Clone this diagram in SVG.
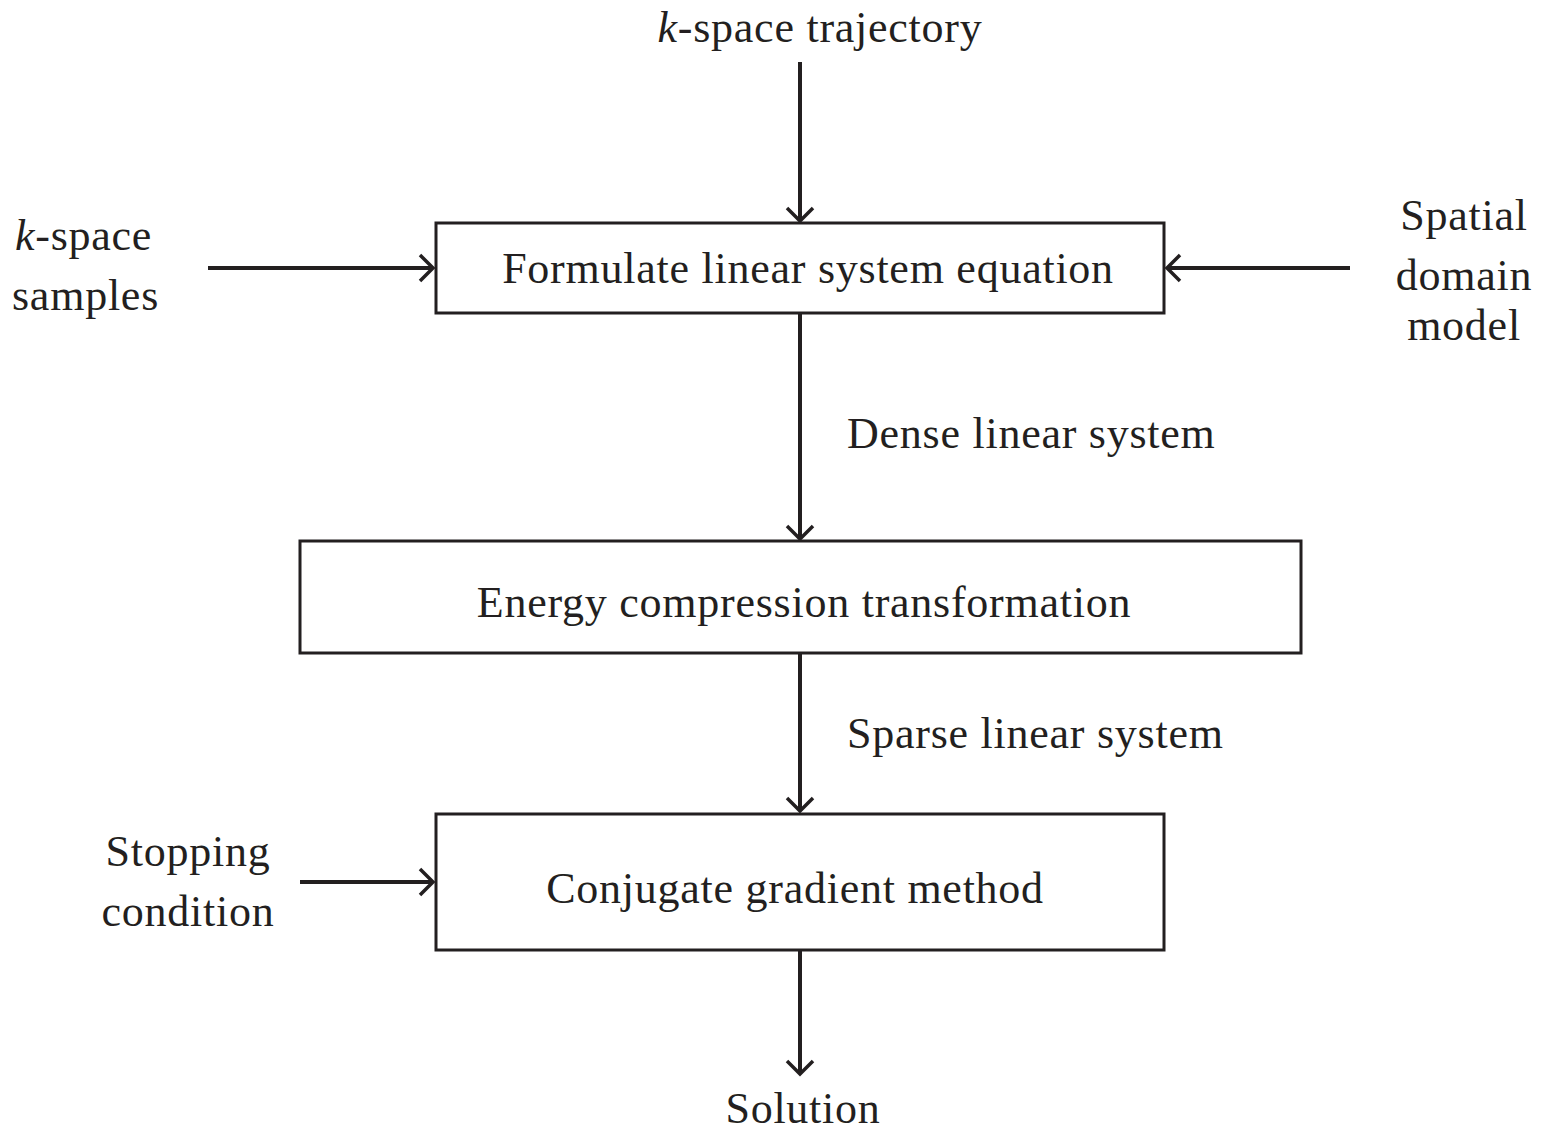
<svg xmlns="http://www.w3.org/2000/svg" width="1549" height="1131" viewBox="0 0 1549 1131">
<defs>
<marker id="ah" viewBox="0 0 30 30" refX="27" refY="15" markerWidth="30" markerHeight="30" markerUnits="userSpaceOnUse" orient="auto">
<path d="M14,2 L27,15 L14,28" fill="none" stroke="#231f20" stroke-width="3.5"/>
</marker>
<style>
.box{fill:#fff;stroke:#231f20;stroke-width:3}
.c{stroke:#231f20;stroke-width:4;fill:none;marker-end:url(#ah)}
text{font-family:"Liberation Serif","Times New Roman",serif;font-size:44px;letter-spacing:0.75px;fill:#231f20}
.m{text-anchor:middle}
</style>
</defs>
<rect width="1549" height="1131" fill="#fff"/>
<g id="connectors">
<line class="c" x1="800" y1="62" x2="800" y2="221"/>
<line class="c" x1="208" y1="268" x2="433" y2="268"/>
<line class="c" x1="1350" y1="268" x2="1167" y2="268"/>
<line class="c" x1="800" y1="314" x2="800" y2="539"/>
<line class="c" x1="800" y1="654" x2="800" y2="811"/>
<line class="c" x1="300" y1="882" x2="433" y2="882"/>
<line class="c" x1="800" y1="951" x2="800" y2="1074"/>
</g>
<g id="n-trajectory"><text class="m" x="820" y="42"><tspan font-style="italic">k</tspan>-space trajectory</text></g>
<g id="n-samples"><text x="15" y="250"><tspan font-style="italic">k</tspan>-space</text><text x="12" y="310">samples</text></g>
<g id="n-spatial"><text class="m" x="1464" y="230">Spatial</text><text class="m" x="1464" y="290">domain</text><text class="m" x="1464" y="340">model</text></g>
<g id="n-formulate"><rect class="box" x="436" y="223" width="728" height="90"/><text class="m" x="808" y="283">Formulate linear system equation</text></g>
<g id="l-dense"><text x="847" y="448">Dense linear system</text></g>
<g id="n-energy"><rect class="box" x="300" y="541" width="1001" height="112"/><text class="m" x="804" y="617">Energy compression transformation</text></g>
<g id="l-sparse"><text x="847" y="748">Sparse linear system</text></g>
<g id="n-stopping"><text class="m" x="188" y="866">Stopping</text><text class="m" x="188" y="926">condition</text></g>
<g id="n-cg"><rect class="box" x="436" y="814" width="728" height="136"/><text class="m" x="795" y="903">Conjugate gradient method</text></g>
<g id="n-solution"><text class="m" x="803" y="1123">Solution</text></g>
</svg>
